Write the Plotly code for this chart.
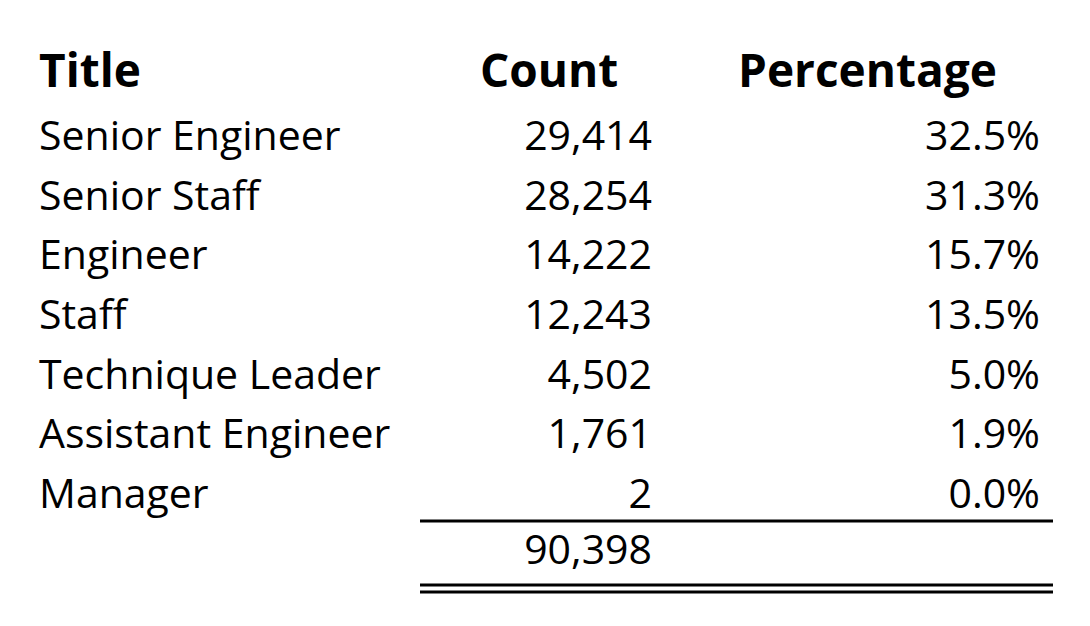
import plotly.graph_objects as go

# table contents
headers = ["Title", "Count", "Percentage"]
titles = ["Senior Engineer", "Senior Staff", "Engineer", "Staff",
          "Technique Leader", "Assistant Engineer", "Manager"]
counts = [29414, 28254, 14222, 12243, 4502, 1761, 2]
percentages = [32.5, 31.3, 15.7, 13.5, 5.0, 1.9, 0.0]
total = sum(counts)

FONT = "Open Sans"
row_y = [140 + i * 59.6 for i in range(len(titles))]
total_y = 554

fig = go.Figure()

# header row
fig.add_trace(go.Scatter(
    x=[39, 480, 738], y=[75] * 3, mode="text", text=headers,
    textposition="middle right",
    textfont=dict(family=FONT, size=46, color="black", weight="bold"),
    hoverinfo="skip"))

# title column (left aligned)
fig.add_trace(go.Scatter(
    x=[39] * len(titles), y=row_y, mode="text", text=titles,
    textposition="middle right",
    textfont=dict(family=FONT, size=41, color="black"),
    hoverinfo="skip"))

# count column (right aligned)
fig.add_trace(go.Scatter(
    x=[652] * len(counts) + [652], y=row_y + [total_y], mode="text",
    text=[f"{c:,}" for c in counts] + [f"{total:,}"],
    textposition="middle left",
    textfont=dict(family=FONT, size=41, color="black"),
    hoverinfo="skip"))

# percentage column (right aligned)
fig.add_trace(go.Scatter(
    x=[1040] * len(percentages), y=row_y, mode="text",
    text=[f"{p:.1f}%" for p in percentages],
    textposition="middle left",
    textfont=dict(family=FONT, size=41, color="black"),
    hoverinfo="skip"))

line = dict(color="black", width=3)
fig.add_shape(type="line", x0=420, x1=1053, y0=521, y1=521, line=line)
fig.add_shape(type="line", x0=420, x1=1053, y0=585, y1=585, line=line)
fig.add_shape(type="line", x0=420, x1=1053, y0=592, y1=592, line=line)

# the page body has an 8px margin, so offset the ranges to keep page pixels
fig.update_xaxes(range=[8, 1098], visible=False, fixedrange=True)
fig.update_yaxes(range=[634, 8], visible=False, fixedrange=True)
fig.update_layout(
    width=1090, height=626, showlegend=False,
    margin=dict(l=0, r=0, t=0, b=0),
    paper_bgcolor="white", plot_bgcolor="white",
)

fig.write_html("out.html", config={"displayModeBar": False})
